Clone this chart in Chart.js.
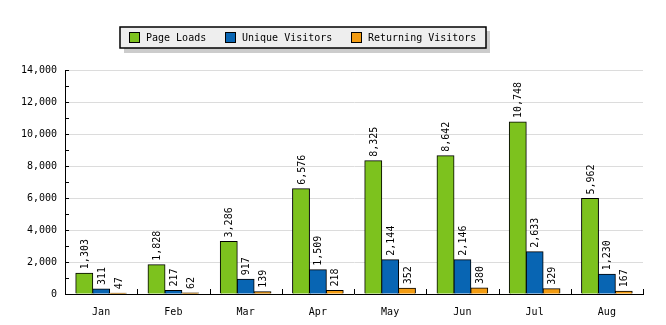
<!DOCTYPE html>
<html>
<head>
<meta charset="utf-8">
<script src="https://cdn.jsdelivr.net/npm/chart.js@4/dist/chart.umd.min.js"></script>
<style>
  body { margin: 0; background: #fff; }
</style>
</head>
<body>
<canvas id="myChart" width="666" height="325"></canvas>
<script>
const months = ["Jan", "Feb", "Mar", "Apr", "May", "Jun", "Jul", "Aug"];
const pageLoads = [1303, 1828, 3286, 6576, 8325, 8642, 10748, 5962];
const uniqueVisitors = [311, 217, 917, 1509, 2144, 2146, 2633, 1230];
const returningVisitors = [47, 62, 139, 218, 352, 380, 329, 167];

const FONT = "10px 'DejaVu Sans Mono', monospace";

// rotated value labels above each bar
const valueLabels = {
  id: 'valueLabels',
  afterDatasetsDraw(chart) {
    const ctx = chart.ctx;
    ctx.save();
    ctx.font = FONT;
    ctx.fillStyle = '#000';
    chart.data.datasets.forEach((ds, i) => {
      chart.getDatasetMeta(i).data.forEach((bar, j) => {
        ctx.save();
        ctx.translate(bar.x + 1, bar.y - 4);
        ctx.rotate(-Math.PI / 2);
        ctx.textAlign = 'left';
        ctx.textBaseline = 'middle';
        ctx.fillText(ds.data[j].toLocaleString('en-US'), 0, 0);
        ctx.restore();
      });
    });
    ctx.restore();
  }
};

// inward ticks on both axes
const innerTicks = {
  id: 'innerTicks',
  afterDraw(chart) {
    const ctx = chart.ctx;
    const x = chart.scales.x, y = chart.scales.y;
    ctx.save();
    ctx.strokeStyle = '#000';
    ctx.lineWidth = 1;
    ctx.beginPath();
    for (let v = 0; v <= 14000; v += 1000) {
      const py = Math.round(y.getPixelForValue(v)) + 0.5;
      ctx.moveTo(y.right, py);
      ctx.lineTo(y.right + 4, py);
    }
    for (let i = 0; i < months.length; i++) {
      const px = i < months.length - 1
        ? (x.getPixelForValue(i) + x.getPixelForValue(i + 1)) / 2
        : x.right;
      const rx = Math.round(px) + 0.5;
      ctx.moveTo(rx, x.top);
      ctx.lineTo(rx, x.top - 5);
    }
    ctx.stroke();
    ctx.restore();
  }
};

// boxed legend with drop shadow
const boxLegend = {
  id: 'boxLegend',
  afterDraw(chart) {
    const ctx = chart.ctx;
    ctx.save();
    ctx.fillStyle = '#cccccc';
    ctx.fillRect(124, 31, 366, 22);
    ctx.fillStyle = '#eeeeee';
    ctx.fillRect(120, 27, 366, 21);
    ctx.strokeStyle = '#000';
    ctx.lineWidth = 1.5;
    ctx.strokeRect(120, 27, 366, 21);
    const itemX = [129, 225, 351];
    ctx.font = FONT;
    ctx.textBaseline = 'middle';
    ctx.textAlign = 'left';
    chart.data.datasets.forEach((ds, i) => {
      ctx.fillStyle = ds.backgroundColor;
      ctx.fillRect(itemX[i], 32, 10, 10);
      ctx.strokeStyle = '#000';
      ctx.lineWidth = 1;
      ctx.strokeRect(itemX[i] + 0.5, 32.5, 10, 10);
      ctx.fillStyle = '#000';
      ctx.fillText(ds.label, itemX[i] + 17, 38);
    });
    ctx.restore();
  }
};

const data = {
  labels: months,
  datasets: [
    { label: "Page Loads", data: pageLoads, backgroundColor: '#7dc21e' },
    { label: "Unique Visitors", data: uniqueVisitors, backgroundColor: '#0865b3' },
    { label: "Returning Visitors", data: returningVisitors, backgroundColor: '#f39c12' },
  ].map(d => Object.assign(d, {
    borderColor: '#000',
    borderWidth: 1,
    borderSkipped: 'bottom',
    inflateAmount: 0.5,
    categoryPercentage: 0.7,
    barPercentage: 1,
  })),
};

const config = {
  type: 'bar',
  data: data,
  options: {
    responsive: false,
    animation: false,
    layout: { padding: { top: 70, right: 23, left: 0, bottom: 0 } },
    plugins: {
      legend: { display: false },
      tooltip: { enabled: false },
    },
    scales: {
      x: {
        grid: { display: false, drawTicks: false },
        border: { color: '#000', width: 1 },
        ticks: { color: '#000', font: { family: "'DejaVu Sans Mono', monospace", size: 10 }, padding: 12, maxRotation: 0 },
        afterFit: s => { s.height = 31; },
      },
      y: {
        min: 0,
        max: 14000,
        grid: {
          drawTicks: false,
          color: ctx => (ctx.tick && ctx.tick.value % 2000 === 0 && ctx.tick.value > 0) ? '#dcdcdc' : 'rgba(0,0,0,0)',
        },
        border: { color: '#000', width: 1 },
        ticks: {
          stepSize: 1000,
          color: '#000',
          padding: 8,
          font: { family: "'DejaVu Sans Mono', monospace", size: 10 },
          callback: v => (v % 2000 === 0 ? v.toLocaleString('en-US') : ''),
        },
        afterFit: s => { s.width = 65; },
      },
    },
  },
  plugins: [valueLabels, innerTicks, boxLegend],
};

const myChart = new Chart(document.getElementById('myChart'), config);
</script>
</body>
</html>
